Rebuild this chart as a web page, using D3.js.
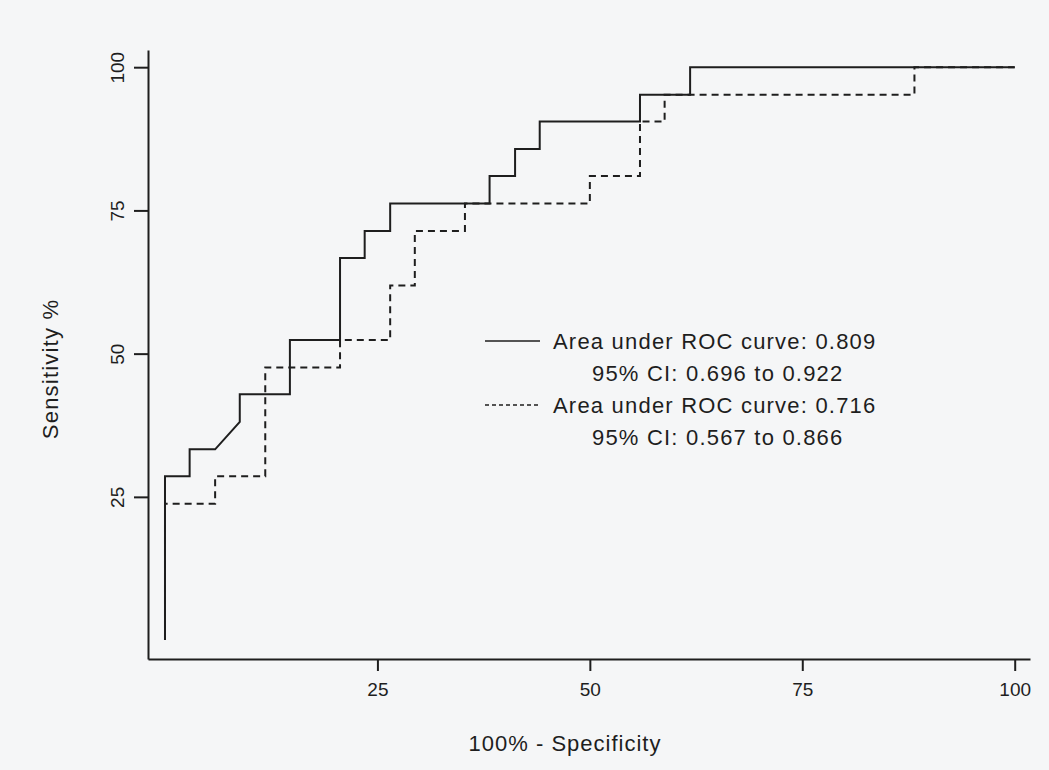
<!DOCTYPE html>
<html>
<head>
<meta charset="utf-8">
<script src="https://cdn.jsdelivr.net/npm/d3@7"></script>
<style>
  body { margin: 0; background: #f5f6f7; }
  svg text { font-family: "Liberation Sans", Arial, sans-serif; fill: #1e1e1e; }
</style>
</head>
<body>
<div id="chart"></div>
<script>
// solid curve (100% - specificity, sensitivity)
var spec1 = [0, 0, 2.9, 2.9, 5.9, 8.8, 8.8, 14.7, 14.7, 20.6, 20.6, 23.5, 23.5, 26.5, 26.5, 38.2, 38.2, 41.2, 41.2, 44.1, 44.1, 55.9, 55.9, 61.8, 61.8, 100];
var sens1 = [0, 28.6, 28.6, 33.3, 33.3, 38.1, 42.9, 42.9, 52.4, 52.4, 66.7, 66.7, 71.4, 71.4, 76.2, 76.2, 81.0, 81.0, 85.7, 85.7, 90.5, 90.5, 95.2, 95.2, 100, 100];
// dashed curve
var spec2 = [0, 0, 5.9, 5.9, 11.8, 11.8, 20.6, 20.6, 26.5, 26.5, 29.4, 29.4, 35.3, 35.3, 50, 50, 55.9, 55.9, 58.8, 58.8, 88.2, 88.2, 100];
var sens2 = [0, 23.8, 23.8, 28.6, 28.6, 47.6, 47.6, 52.4, 52.4, 61.9, 61.9, 71.4, 71.4, 76.2, 76.2, 81.0, 81.0, 90.5, 90.5, 95.2, 95.2, 100, 100];

var tickVals = [25, 50, 75, 100];
var legendLines = [
  ["Area under ROC curve: 0.809", "95% CI: 0.696 to 0.922"],
  ["Area under ROC curve: 0.716", "95% CI: 0.567 to 0.866"]
];

var width = 1049, height = 770;
var svg = d3.select("#chart").append("svg")
    .attr("width", width)
    .attr("height", height);

var x = d3.scaleLinear().domain([-2, 101.8]).range([148, 1030]);
var y = d3.scaleLinear().domain([-3.3, 103]).range([659, 50]);

var xAxis = svg.append("g")
    .attr("transform", "translate(0," + y(-3.3) + ")")
    .call(d3.axisBottom(x).tickValues(tickVals).tickSize(12).tickPadding(12).tickSizeOuter(0));
xAxis.selectAll("path, line").attr("stroke", "#1e1e1e").attr("stroke-width", 2);
xAxis.selectAll("text").style("font-size", "19px").attr("fill", "#1e1e1e");

var yAxis = svg.append("g")
    .attr("transform", "translate(" + x(-2) + ",0)")
    .call(d3.axisLeft(y).tickValues(tickVals).tickSize(14).tickSizeOuter(0));
yAxis.selectAll("path, line").attr("stroke", "#1e1e1e").attr("stroke-width", 2);
yAxis.selectAll("text")
    .attr("transform", "rotate(-90)")
    .attr("x", 0)
    .attr("y", -24)
    .attr("dy", 0)
    .style("text-anchor", "middle")
    .style("font-size", "19px")
    .attr("fill", "#1e1e1e");

var line = d3.line()
    .x(function (d) { return x(d[0]); })
    .y(function (d) { return y(d[1]); });

svg.append("path")
    .datum(d3.zip(spec1, sens1))
    .attr("d", line)
    .attr("fill", "none")
    .attr("stroke", "#1e1e1e")
    .attr("stroke-width", 2);

svg.append("path")
    .datum(d3.zip(spec2, sens2))
    .attr("d", line)
    .attr("fill", "none")
    .attr("stroke", "#1e1e1e")
    .attr("stroke-width", 2)
    .attr("stroke-dasharray", "7,5");

// legend
var legend = svg.append("g");
legendLines.forEach(function (lines, i) {
    var ly = 341 + i * 64;
    legend.append("line")
        .attr("x1", 485).attr("x2", 540)
        .attr("y1", ly).attr("y2", ly)
        .attr("stroke", "#1e1e1e")
        .attr("stroke-width", 1.5)
        .attr("stroke-dasharray", i === 1 ? "4,3" : null);
    legend.append("text")
        .attr("x", 553).attr("y", ly + 8)
        .style("font-size", "22px")
        .style("letter-spacing", "1.2px")
        .text(lines[0]);
    legend.append("text")
        .attr("x", 592).attr("y", ly + 40)
        .style("font-size", "22px")
        .style("letter-spacing", "1.2px")
        .text(lines[1]);
});

svg.append("text")
    .attr("x", 565).attr("y", 751)
    .style("text-anchor", "middle")
    .style("font-size", "22px")
    .style("letter-spacing", "1px")
    .text("100% - Specificity");

svg.append("text")
    .attr("transform", "translate(58,369) rotate(-90)")
    .style("text-anchor", "middle")
    .style("font-size", "22px")
    .style("letter-spacing", "1.2px")
    .text("Sensitivity %");
</script>
</body>
</html>
